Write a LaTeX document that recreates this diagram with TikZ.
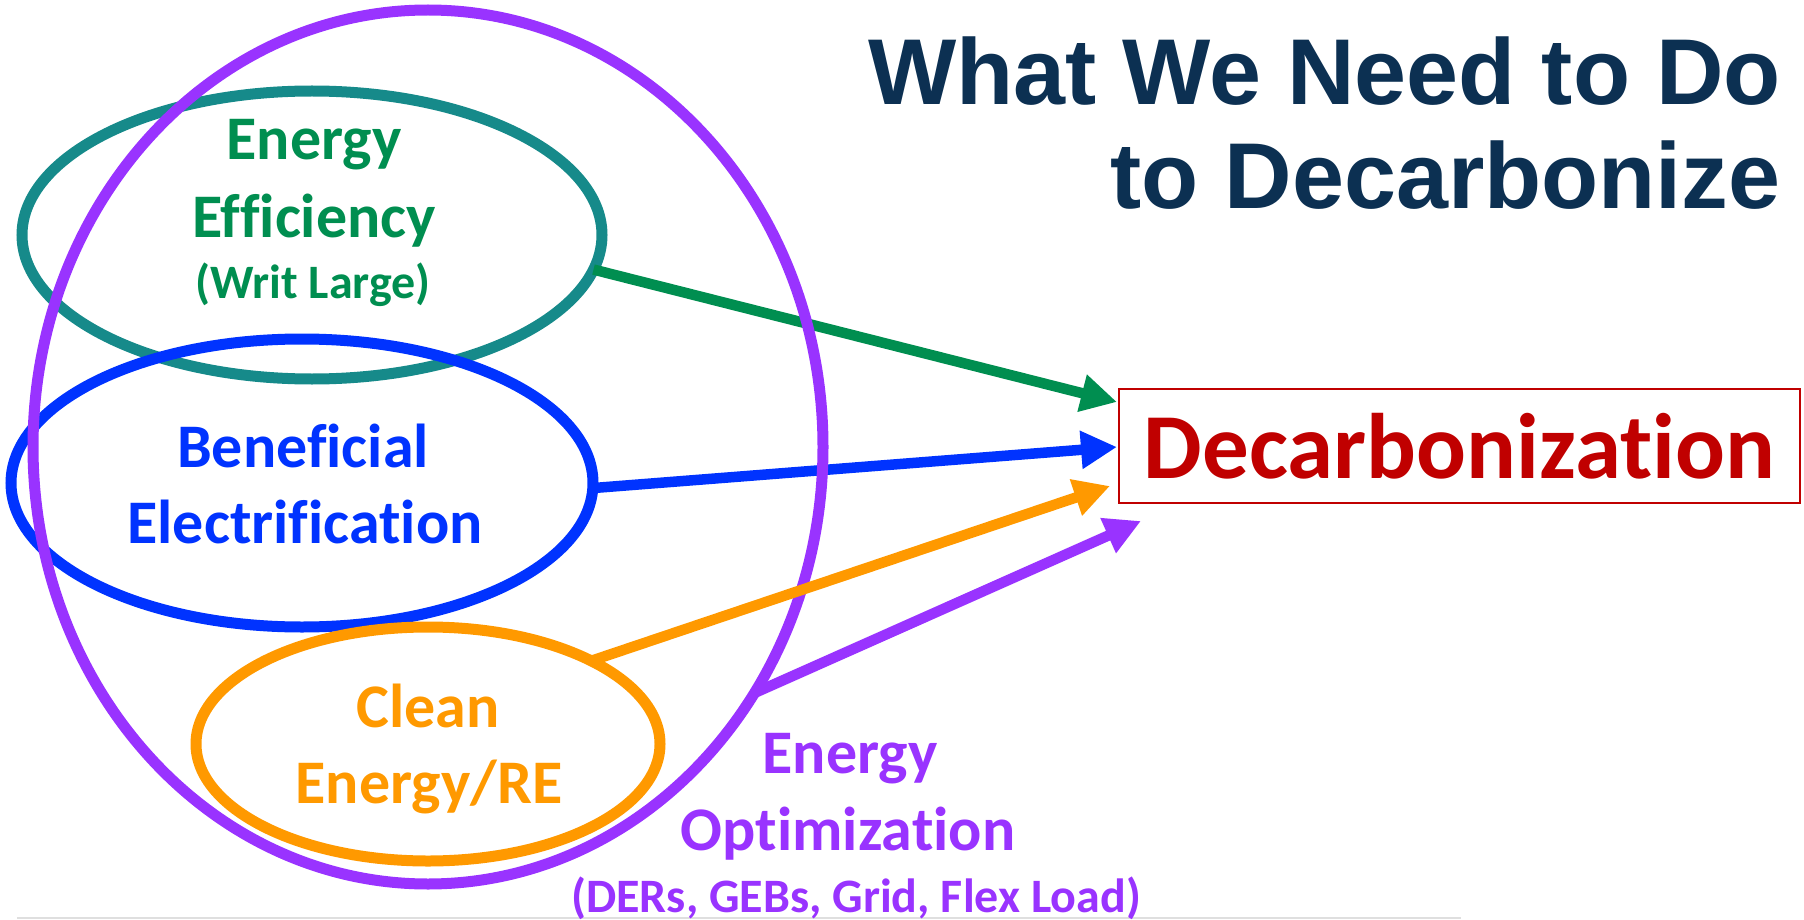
\documentclass[tikz,border=0pt]{standalone}
\usepackage{fontspec}
\setmainfont{Carlito}[Ligatures={NoCommon,NoContextual}]
\newfontfamily\titlefont{Liberation Sans}
\usetikzlibrary{arrows.meta,shapes.geometric}
\definecolor{tealc}{RGB}{22,138,138}
\definecolor{greenc}{RGB}{0,142,80}
\definecolor{bluec}{RGB}{0,51,255}
\definecolor{orangec}{RGB}{255,153,0}
\definecolor{purplec}{RGB}{153,51,255}
\definecolor{redc}{RGB}{192,0,0}
\definecolor{navyc}{RGB}{12,48,82}
\begin{document}
\begin{tikzpicture}[x=1pt,y=-1pt,
  ring/.style={draw, ellipse, inner sep=0pt, outer sep=0pt, line width=11pt},
  conn/.style={line width=10.5pt, -{Triangle[length=36pt,width=36pt]}},
  lbl/.style={anchor=base, inner sep=0pt, font=\bfseries\fontsize{62}{74}\selectfont},
  sublbl/.style={anchor=base, inner sep=0pt, font=\bfseries\fontsize{48}{56}\selectfont},
  ttl/.style={anchor=base east, inner sep=0pt, text=navyc, font=\titlefont\bfseries\fontsize{93.5}{104}\selectfont}
]
\useasboundingbox (0,0) rectangle (1804,920);
\draw[gray!25, line width=2pt] (17,918) -- (1461,918);

% ellipses
\node[ring, draw=tealc, minimum width=580pt, minimum height=288pt] (ee) at (312,235) {};
\node[ring, draw=bluec, minimum width=582pt, minimum height=288pt] (be) at (302,483) {};

% target box
\node[draw=redc, line width=2pt, minimum width=681pt, minimum height=114pt, inner sep=0pt,
      text=redc, font=\bfseries\fontsize{93}{100}\selectfont] (dec) at (1459.5,446) {Decarbonization};

\coordinate (tg) at (1117,402);
\coordinate (tb) at (1117,447);
\coordinate (to) at (1110,486);
\coordinate (tp) at (1141,521);

\draw[conn, greenc] (ee.-7) -- (tg);
\draw[conn, bluec] (be.-1) -- (tb);

\node[ring, draw=purplec, minimum width=790pt, minimum height=874pt] (eo) at (428,447) {};
\node[ring, draw=orangec, minimum width=464pt, minimum height=234pt] (ce) at (428,744) {};

\draw[conn, orangec] (ce.27) -- (to);
\draw[conn, purplec] (eo.-37) -- (tp);

% labels
\node[lbl, text=greenc] (ee1) at (314,160) {Energy};
\node[lbl, text=greenc] (ee2) at (314,237) {Efficiency};
\node[sublbl, text=greenc] (ee3) at (313,298) {(Writ Large)};

\node[lbl, text=bluec] (be1) at (303,467) {Beneficial};
\node[lbl, text=bluec] (be2) at (305,543) {Electrification};

\node[lbl, text=orangec] (ce1) at (428,727) {Clean};
\node[lbl, text=orangec] (ce2) at (429,803) {Energy/RE};

\node[lbl, text=purplec] (eo1) at (850,773) {Energy};
\node[lbl, text=purplec] (eo2) at (848,850) {Optimization};
\node[sublbl, text=purplec] (eo3) at (856,912) {(DERs, GEBs, Grid, Flex Load)};

% title
\node[ttl] (t1) at (1781,105) {What We Need to Do};
\node[ttl] (t2) at (1781,209) {to Decarbonize};
\end{tikzpicture}
\end{document}
